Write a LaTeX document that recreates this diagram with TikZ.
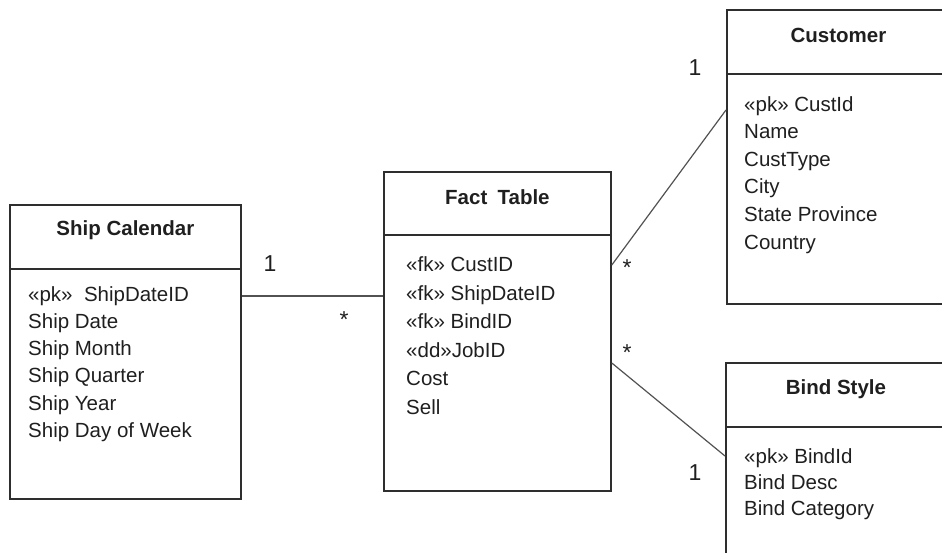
\documentclass[tikz,border=0pt]{standalone}
\usepackage{fontspec}
\setmainfont{Liberation Sans}
\usepackage{xcolor}
\usetikzlibrary{positioning}

\begin{document}
\begin{tikzpicture}[x=1pt, y=-1pt, every node/.style={font=\fontsize{20.5}{25}\selectfont, text=black!88}]
  \tikzset{tbl/.style={draw=black!82, line width=1.8pt, anchor=north west, inner sep=0pt},
           ttl/.style={anchor=base, font=\fontsize{20.5}{25}\selectfont\bfseries},
           attr/.style={anchor=north west, inner sep=0pt, align=left, font=\fontsize{20.5}{#1}\selectfont},
           mult/.style={inner sep=0pt, font=\fontsize{23}{26}\selectfont},
           bar/.style={draw=black!82, line width=1.8pt},
           link/.style={draw=black!68, line width=1.2pt}}
  \useasboundingbox (0,0) rectangle (942,552);
  \clip (0,0) rectangle (942,552);
  % tables
  \node[tbl, minimum width=231pt, minimum height=294pt] (cal)  at (9,204)   {};
  \node[tbl, minimum width=227pt, minimum height=319pt] (fact) at (383,171) {};
  \node[tbl, minimum width=223pt, minimum height=294pt] (cust) at (726,9)   {};
  \node[tbl, minimum width=220pt, minimum height=230pt] (bind) at (725,362) {};
  \draw[bar] (cal.west  |- 0,269) -- (cal.east  |- 0,269);
  \draw[bar] (fact.west |- 0,235) -- (fact.east |- 0,235);
  \draw[bar] (cust.west |- 0,74)  -- (cust.east |- 0,74);
  \draw[bar] (bind.west |- 0,427) -- (bind.east |- 0,427);
  % titles
  \node[ttl] (calT)  at ([yshift=-31pt]cal.north)  {Ship Calendar};
  \node[ttl] (factT) at ([yshift=-33pt]fact.north) {Fact\enspace Table};
  \node[ttl] (custT) at ([yshift=-33pt]cust.north) {Customer};
  \node[ttl] (bindT) at ([yshift=-32pt]bind.north) {Bind Style};
  % attributes
  \node[attr=27.3pt] (calA) at (28,286) {«pk»\ \ ShipDateID\\ Ship Date\\ Ship Month\\ Ship Quarter\\ Ship Year\\ Ship Day of Week};
  \node[attr=28.6pt] (factA) at (406,256.5) {«fk» CustID\\ «fk» ShipDateID\\ «fk» BindID\\ «dd»JobID\\ Cost\\ Sell};
  \node[attr=27.6pt] (custA) at (744,96) {«pk» CustId\\ Name\\ CustType\\ City\\ State Province\\ Country};
  \node[attr=26.4pt] (bindA) at (744,448) {«pk» BindId\\ Bind Desc\\ Bind Category};
  % links
  \draw[link] (cal.east  |- 0,296) -- (fact.west |- 0,296);
  \draw[link] (fact.east |- 0,265) -- (cust.west |- 0,110);
  \draw[link] (fact.east |- 0,363) -- (bind.west |- 0,456);
  % multiplicities
  \node[mult] (m1) at (270,264) {1};
  \node[mult] (m2) at (344,320) {*};
  \node[mult] (m3) at (627,268) {*};
  \node[mult] (m4) at (695,68)  {1};
  \node[mult] (m5) at (627,353) {*};
  \node[mult] (m6) at (695,473) {1};
\end{tikzpicture}
\end{document}
